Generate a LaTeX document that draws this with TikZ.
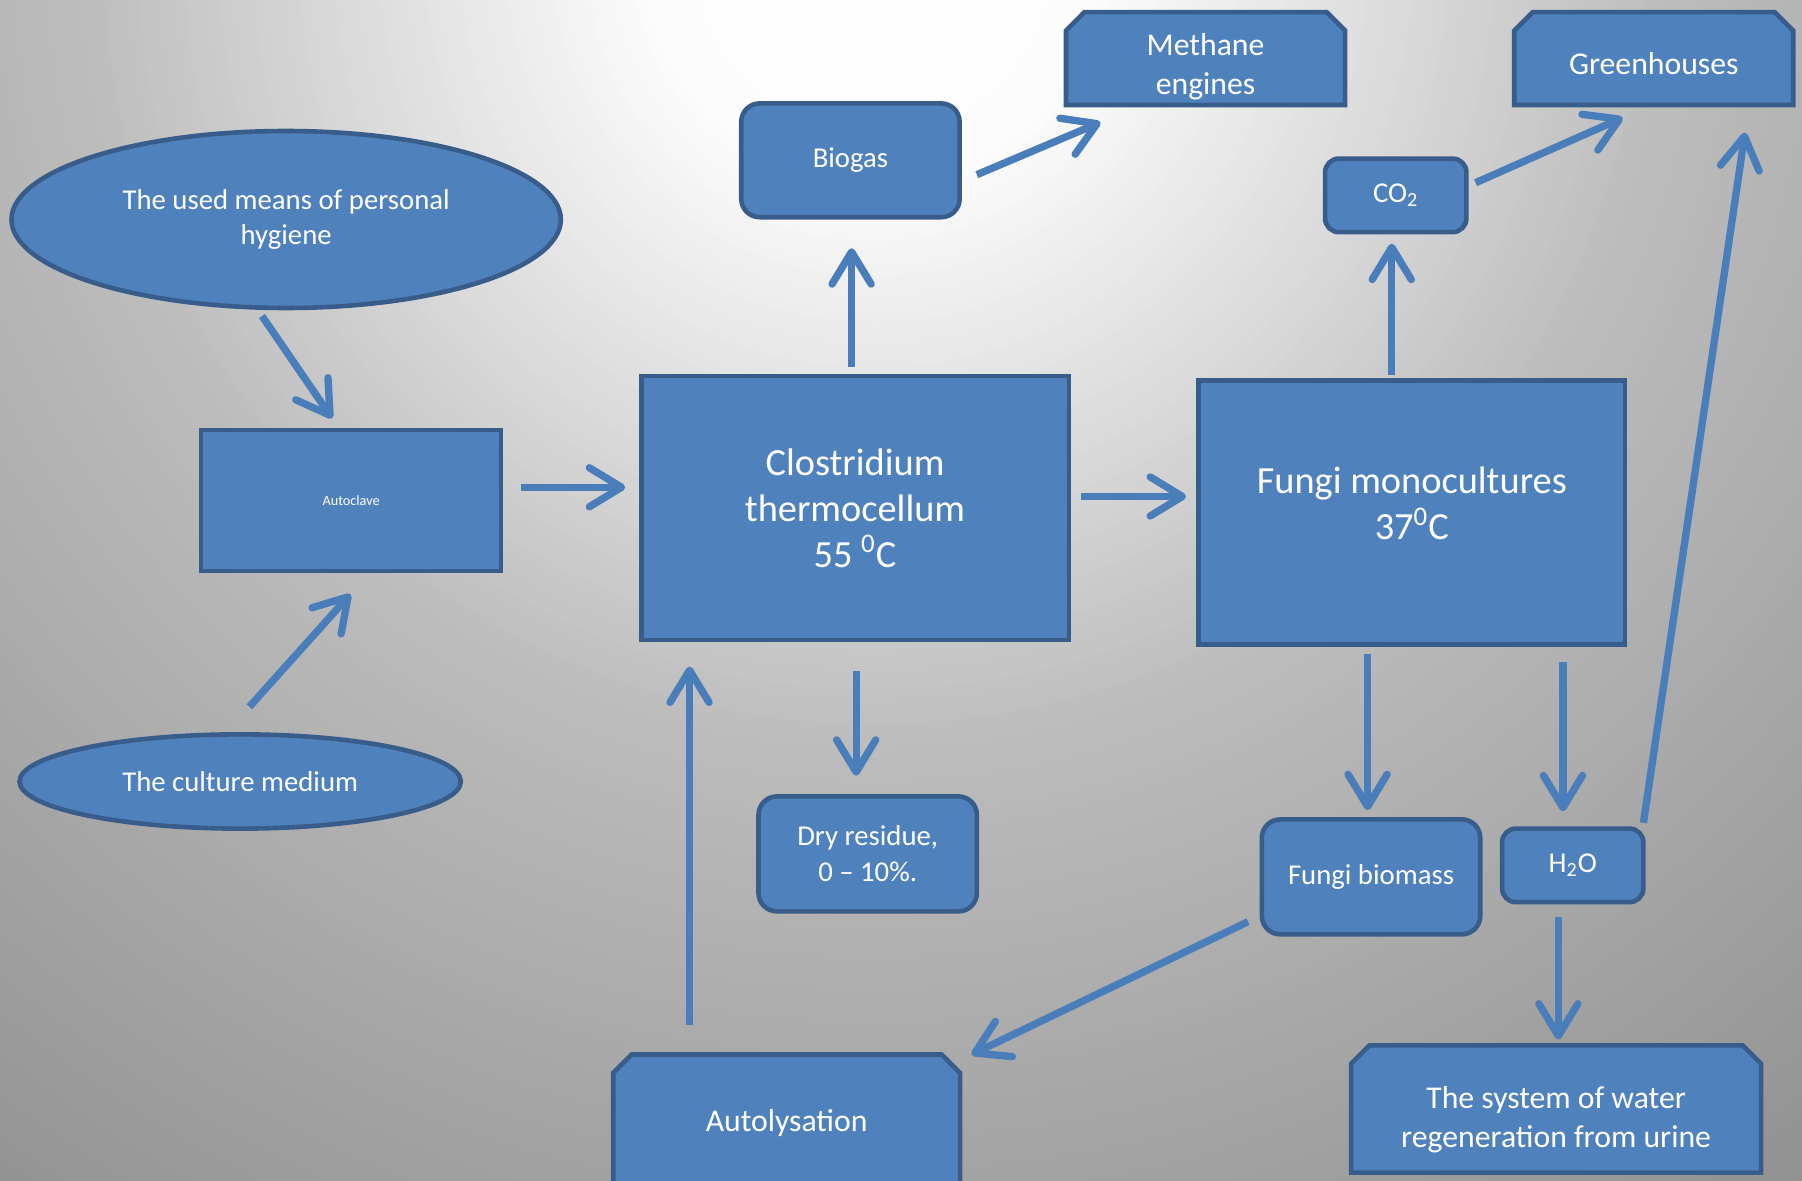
\documentclass[tikz,border=0pt]{standalone}
\usepackage{fontspec}
\setmainfont{Carlito}
\usetikzlibrary{arrows.meta,shapes.geometric,calc}
\definecolor{fillc}{HTML}{4F81BD}
\definecolor{bdr}{HTML}{385D8A}
\definecolor{arrc}{HTML}{4A7EBB}
\pgfdeclarelayer{bglayer}
\pgfdeclarelayer{shplayer}
\pgfsetlayers{bglayer,shplayer,main}
\tikzset{
  box/.style={draw=bdr, fill=fillc, line width=2pt, text=white, align=center, inner sep=0pt},
  rectbox/.style={box, rectangle},
  rbox/.style={box, rectangle, rounded corners=8pt},
  sbox/.style={rectangle, inner sep=0pt},
  snipshape/.style={draw=bdr, fill=fillc, line width=2pt},
  ell/.style={box, ellipse},
  bigtxt/.style={font=\fontsize{16.7}{20}\selectfont},
  midtxt/.style={font=\fontsize{13.8}{17}\selectfont},
  smalltxt/.style={font=\fontsize{12.5}{15.5}\selectfont},
  tinytxt/.style={font=\fontsize{6.2}{7.5}\selectfont},
  lbl/.style={text=white, align=center, inner sep=0pt},
  arr/.style={draw=arrc, line width=3.2pt, -{Straight Barb[length=14pt,width=17pt,round]}},
}
\newcommand\snipbox[1]{%
  \path[snipshape] (#1.south west) -- ([yshift=-8pt]#1.north west) -- ([xshift=8pt]#1.north west)
    -- ([xshift=-8pt]#1.north east) -- ([yshift=-8pt]#1.north east) -- (#1.south east) -- cycle;}
\begin{document}
\begin{tikzpicture}[x=0.5pt,y=-0.5pt]
\useasboundingbox (0,0) rectangle (1568,1027);
\clip (0,0) rectangle (1568,1027);
% background gradient
\begin{pgfonlayer}{bglayer}
\fill[black!45!white] (0,0) rectangle (1568,1027);
\foreach \r in {1800,1790,...,0}{
  \pgfmathsetmacro\s{\r/100}
  \pgfmathsetmacro\gv{(\s<2 ? 255-1.5*\s : (\s<7 ? 252-12.8*(\s-2) : (\s<10 ? 188-6.667*(\s-7) : (\s<14 ? 168-6.5*(\s-10) : 142-4.25*(\s-14)))))/255}
  \definecolor{bgtmp}{gray}{\gv}
  \fill[bgtmp] (760,-40) circle [radius=\r];
}
\end{pgfonlayer}
% nodes
\node[ell, smalltxt, minimum width=239pt, minimum height=77pt] (hyg) at (249,191) {The used means of personal\\hygiene};
\node[ell, smalltxt, minimum width=192pt, minimum height=41pt] (cult) at (209,680) {The culture medium};
\node[rectbox, tinytxt, minimum width=130.5pt, minimum height=61.5pt] (auto) at (305.5,435.5) {Autoclave};
\node[rectbox, bigtxt, minimum width=186pt, minimum height=115pt] (clos) at (744,442) {Clostridium\\thermocellum\\55 \textsuperscript{0}C};
\node[rectbox, minimum width=185.5pt, minimum height=115pt,
      label={[lbl, bigtxt, yshift=4pt]center:Fungi monocultures\\37\textsuperscript{0}C}] (fungi) at (1228.5,446) {};
\node[rbox, smalltxt, minimum width=95pt, minimum height=49.5pt] (biogas) at (740,139.5) {Biogas};
\node[sbox, minimum width=121pt, minimum height=40pt,
      label={[lbl, midtxt, yshift=-3.5pt]center:Methane\\engines}] (meth) at (1049,51) {};
\node[sbox, minimum width=121pt, minimum height=40pt,
      label={[lbl, midtxt, yshift=-2pt]center:Greenhouses}] (green) at (1439,51) {};
\node[rbox, smalltxt, rounded corners=6pt, minimum width=61.5pt, minimum height=32pt] (co2) at (1214.5,170) {CO\textsubscript{2}};
\node[rbox, smalltxt, minimum width=95pt, minimum height=50pt] (dry) at (755,743) {Dry residue,\\0 -- 10\%.};
\node[rbox, smalltxt, minimum width=95pt, minimum height=50pt] (fbio) at (1193,763) {Fungi biomass};
\node[rbox, smalltxt, rounded corners=6pt, minimum width=61.5pt, minimum height=32pt] (h2o) at (1368.5,753) {H\textsubscript{2}O};
\node[sbox, minimum width=150.5pt, minimum height=59pt,
      label={[lbl, midtxt]center:Autolysation}] (autol) at (684.5,977) {};
\node[sbox, minimum width=178pt, minimum height=55pt,
      label={[lbl, midtxt, yshift=-4.5pt]center:The system of water\\regeneration from urine}] (water) at (1354,965) {};
% snipped-corner shapes (behind their labels)
\begin{pgfonlayer}{shplayer}
\snipbox{meth}
\snipbox{green}
\snipbox{autol}
\snipbox{water}
\end{pgfonlayer}
% connectors
\draw[arr] ([shift={(-21,5)}]hyg.south) -- ([shift={(-16.5,-8)}]auto.north);
\draw[arr] ([shift={(8,-22)}]cult.north) -- ([shift={(-0.5,18)}]auto.south);
\draw[arr] ([shift={(15,-11.5)}]auto.east) -- ([shift={(-12,-18)}]clos.west);
\draw[arr] ([shift={(-3,-6)}]clos.north) -- ([shift={(1,25)}]biogas.south);
\draw[arr] ([shift={(13,12.5)}]biogas.east) -- ([shift={(30,15)}]meth.south west);
\draw[arr] ([shift={(9,-10)}]clos.east) -- ([shift={(-9,-14)}]fungi.west);
\draw[arr] ([shift={(1,25)}]clos.south) -- ([shift={(-10,-16)}]dry.north);
\draw[arr] ([shift={(-17.5,-3)}]fungi.north) -- ([shift={(-3.5,8)}]co2.south);
\draw[arr] ([shift={(6,-11)}]co2.east) -- ([shift={(-27,11)}]green.south);
\draw[arr] ([shift={(-2,-3)}]h2o.north east) -- ([shift={(-42,24)}]green.south east);
\draw[arr] ([shift={(-38.5,6)}]fungi.south) -- ([shift={(-3,-6)}]fbio.north);
\draw[arr] ([shift={(131.5,13)}]fungi.south) -- ([shift={(-8.5,-13)}]h2o.north);
\draw[arr] ([shift={(-12.5,11)}]h2o.south) -- ([shift={(2,-5)}]water.north);
\draw[arr] ([shift={(-10,39)}]fbio.west) -- ([shift={(10,0)}]autol.north east);
\draw[arr] ([shift={(-84.5,-26)}]autol.north) -- ([shift={(-144,21)}]clos.south);
\end{tikzpicture}
\end{document}
